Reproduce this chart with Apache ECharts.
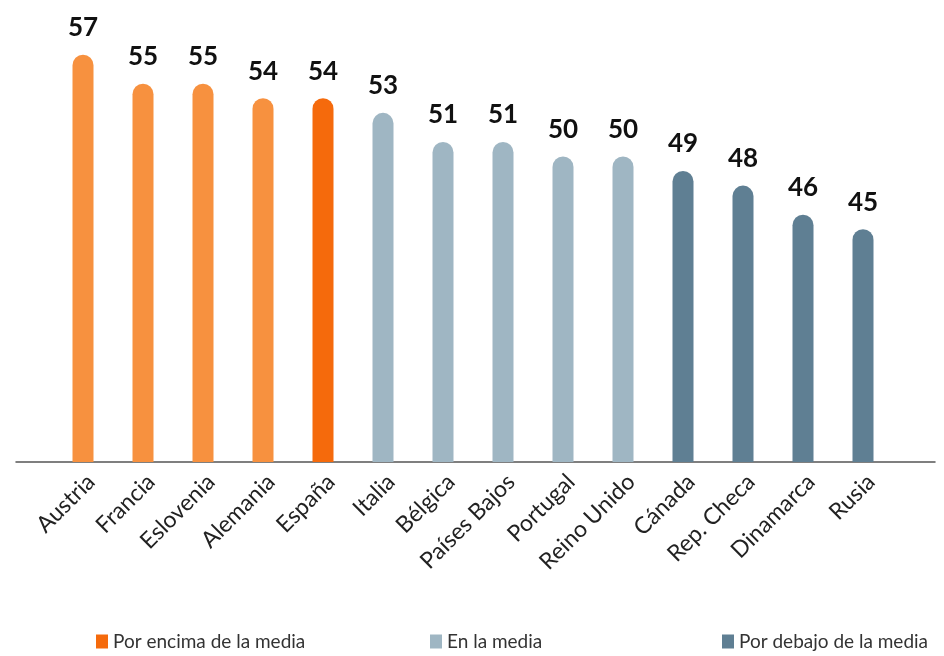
<!DOCTYPE html>
<html>
<head>
<meta charset="utf-8">
<script src="https://cdn.jsdelivr.net/npm/echarts@6/dist/echarts.min.js"></script>
<style>
  html, body { margin: 0; padding: 0; background: #fff; }
  #chart { width: 944px; height: 656px; }
</style>
</head>
<body>
<div id="chart"></div>
<script>
// Countries, in display order
const countries = ['Austria', 'Francia', 'Eslovenia', 'Alemania', 'España', 'Italia', 'Bélgica',
  'Países Bajos', 'Portugal', 'Reino Unido', 'Cánada', 'Rep. Checa', 'Dinamarca', 'Rusia'];
// Score per country
const scores = [57, 55, 55, 54, 54, 53, 51, 51, 50, 50, 49, 48, 46, 45];
// Group of each country: 0 above average, 1 average, 2 below average
const groupOf = [0, 0, 0, 0, 0, 1, 1, 1, 1, 1, 2, 2, 2, 2];
const groupNames = ['Por encima de la media', 'En la media', 'Por debajo de la media'];
const highlighted = 'España';

const groupColors = ['#F56A0C', '#9FB6C3', '#5F7F93'];
const softOrange = '#F7913F';

const chart = echarts.init(document.getElementById('chart'));

const series = groupNames.map((name, g) => ({
  name: name,
  type: 'bar',
  xAxisIndex: 0,
  yAxisIndex: 0,
  barWidth: 21,
  barGap: '-100%',
  itemStyle: { color: groupColors[g], borderRadius: [10.5, 10.5, 0, 0] },
  label: {
    show: true,
    position: 'top',
    distance: 14,
    fontFamily: 'Lato',
    fontWeight: 'bold',
    fontSize: 26,
    color: '#111'
  },
  data: scores.map((v, i) => {
    if (groupOf[i] !== g) return '-';
    if (g === 0 && countries[i] !== highlighted) {
      return { value: v, itemStyle: { color: softOrange } };
    }
    return v;
  })
}));

const legendBase = {
  icon: 'rect',
  itemWidth: 12,
  itemHeight: 14,
  top: 627,
  textStyle: { fontFamily: 'Lato', fontSize: 19, color: '#333' },
  selectedMode: false
};

chart.setOption({
  animation: false,
  backgroundColor: '#fff',
  grid: [
    { left: 53, right: 51, top: 11, bottom: 194 },
    { left: 16, right: 9, top: 11, bottom: 194 }
  ],
  legend: [
    Object.assign({}, legendBase, { left: 91, data: [groupNames[0]] }),
    Object.assign({}, legendBase, { left: 425, data: [groupNames[1]] }),
    Object.assign({}, legendBase, { left: 717, data: [groupNames[2]] })
  ],
  xAxis: [
    {
      type: 'category',
      gridIndex: 0,
      data: countries,
      axisLine: { show: false },
      axisTick: { show: false },
      axisLabel: {
        rotate: 45,
        interval: 0,
        margin: 8,
        verticalAlign: 'top',
        fontFamily: 'Lato',
        fontSize: 23,
        color: '#222'
      }
    },
    {
      type: 'value',
      gridIndex: 1,
      min: 0,
      max: 1,
      axisLine: { show: true, lineStyle: { color: '#555', width: 1.5 } },
      axisTick: { show: false },
      axisLabel: { show: false },
      splitLine: { show: false }
    }
  ],
  yAxis: [
    {
      type: 'value',
      gridIndex: 0,
      min: 29,
      max: 60,
      show: false,
      splitLine: { show: false }
    },
    {
      type: 'value',
      gridIndex: 1,
      min: 0,
      max: 1,
      show: false,
      splitLine: { show: false }
    }
  ],
  series: series
});
</script>
</body>
</html>
